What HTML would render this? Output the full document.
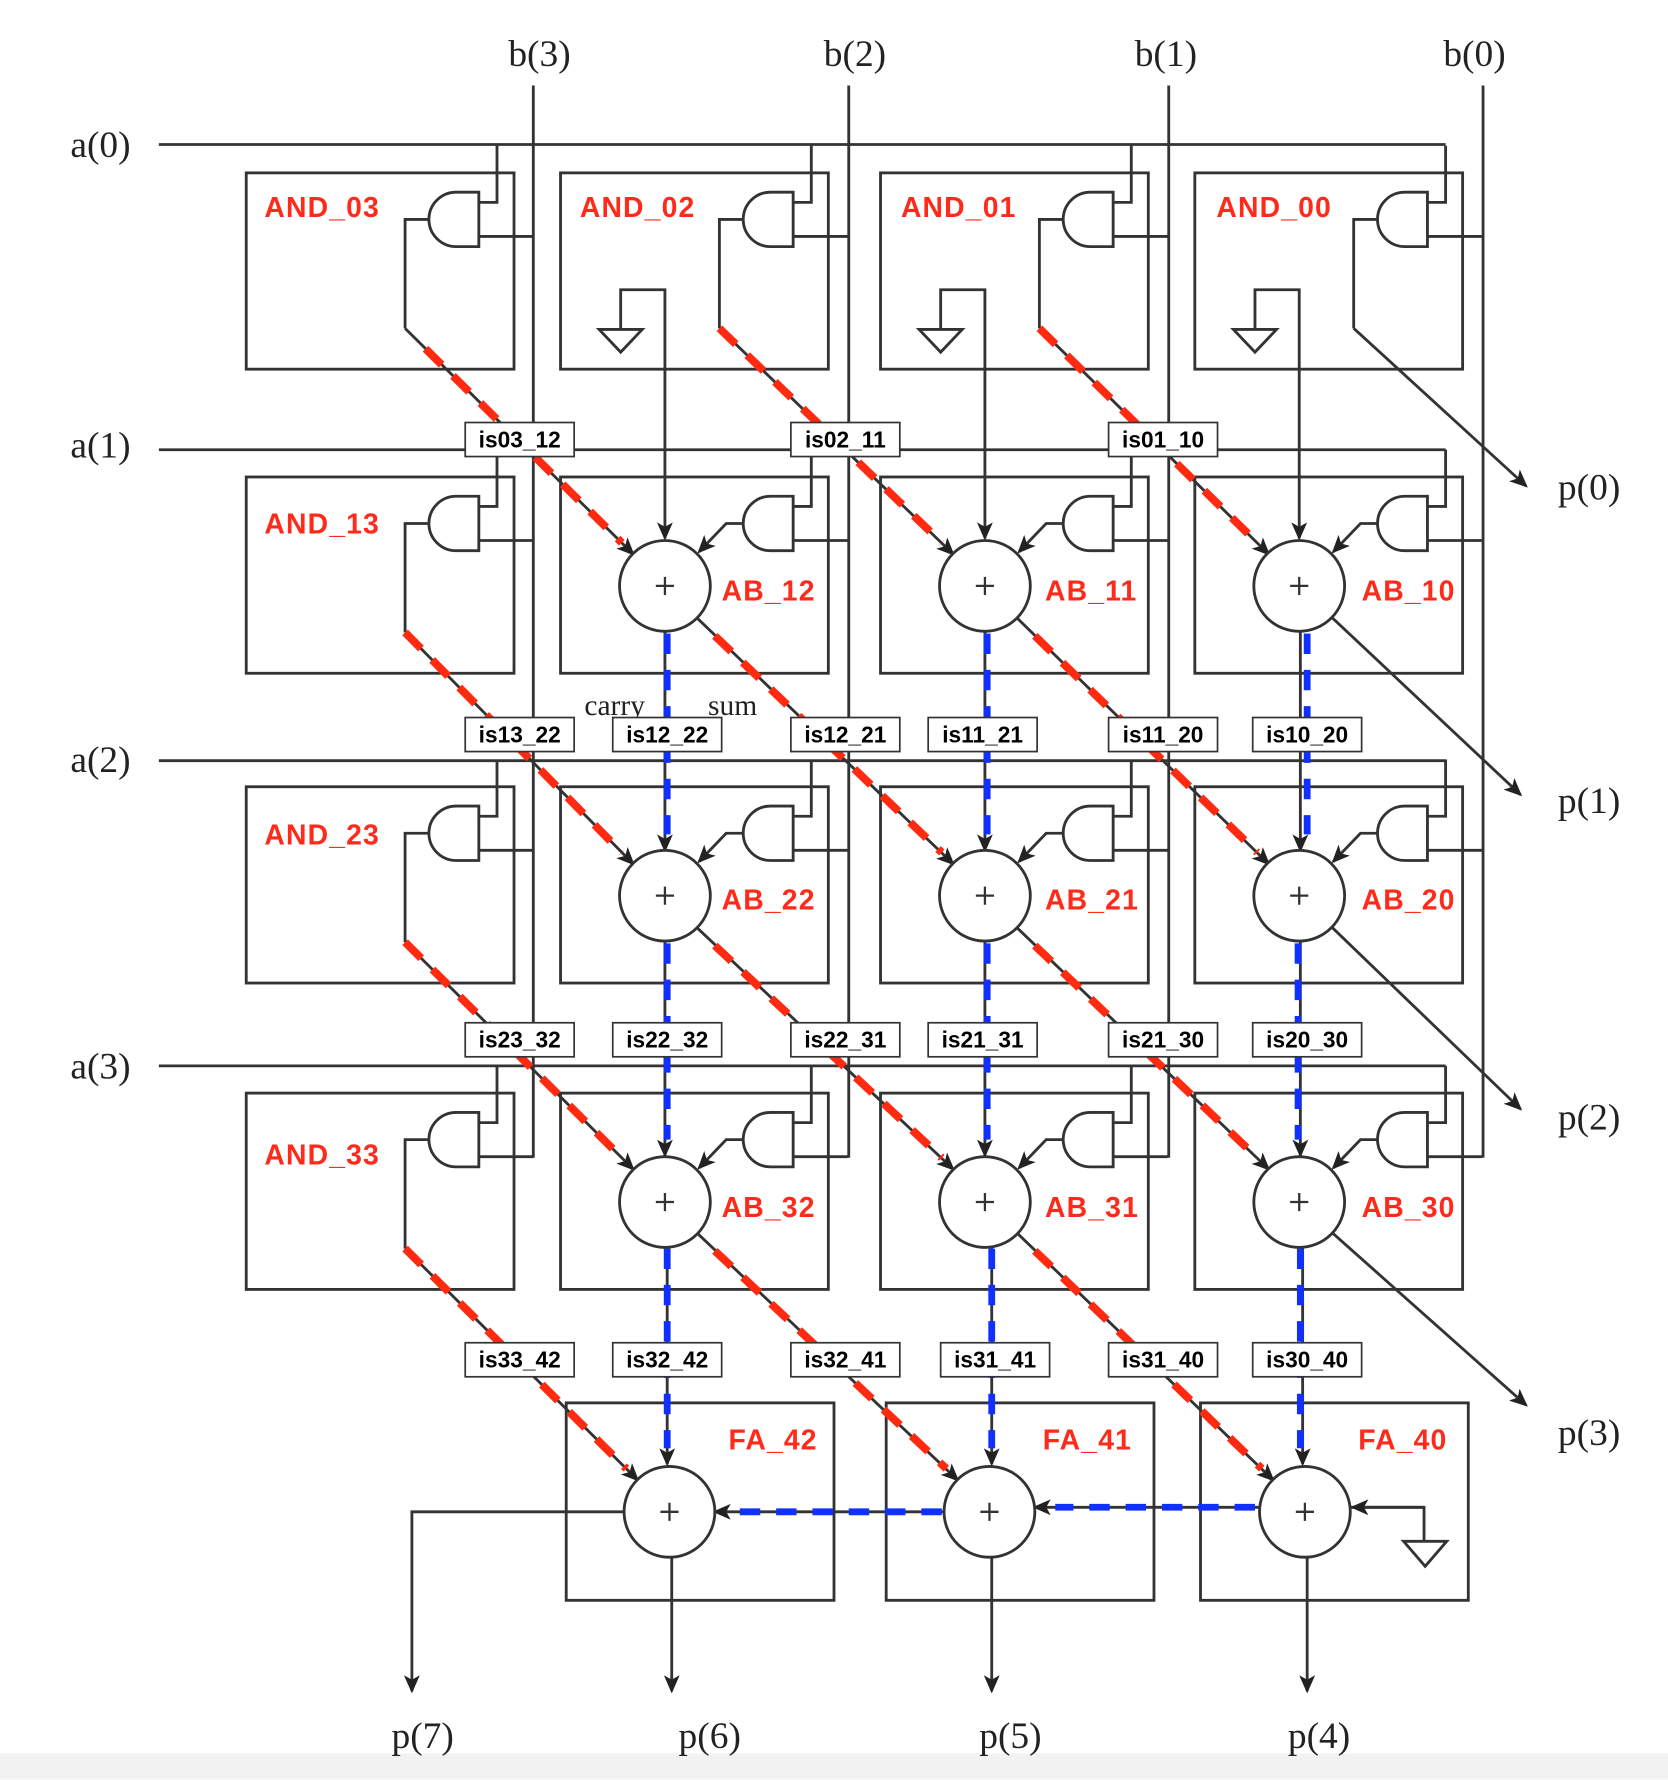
<!DOCTYPE html>
<html><head><meta charset="utf-8"><style>
html,body{margin:0;padding:0;background:#fff}
svg{display:block}
.ser{font-family:"Liberation Serif",serif;font-size:33px;fill:#222}
.red{font-family:"Liberation Sans",sans-serif;font-weight:bold;font-size:25px;letter-spacing:1px;fill:#ff2a1a}
.lb{font-family:"Liberation Sans",sans-serif;font-weight:bold;font-size:20px;fill:#000}
</style></head><body>
<svg width="1668" height="1780" viewBox="0 0 1470 1568" xmlns="http://www.w3.org/2000/svg">
<defs>
<marker id="ar" markerWidth="16" markerHeight="14" refX="14" refY="7" orient="auto" markerUnits="userSpaceOnUse"><path d="M0,0 L16,7 L0,14 L4,7 Z" fill="#222"/></marker>
<g id="cell" fill="none" stroke="#333" stroke-width="2.5">
<rect x="0" y="0" width="236" height="173"/>
<path d="M205,17 H185 A24,24 0 0 0 185,65 H205 Z" fill="#fff"/>
<path d="M221,-24 V26 H205 M205,56 H253"/>
</g>
<g id="gout" fill="none" stroke="#333" stroke-width="2.5"><path d="M161,41 H140 V137"/></g>
<g id="add" fill="none" stroke="#333" stroke-width="2.5">
<path d="M161,41 H146 L122,66" marker-end="url(#ar)"/>
<circle cx="92" cy="96" r="40" fill="#fff"/>
<path d="M84,96 H100 M92,88 V104" stroke-width="2"/>
</g>
<g id="gnd" fill="none" stroke="#333" stroke-width="2.5">
<path d="M53,138 V103 H92 V322" marker-end="url(#ar)"/>
<path d="M34,138 H72 L53,158 Z"/>
</g>
</defs>
<rect x="0" y="1545" width="1470" height="23" fill="#f2f2f2"/>

<g stroke="#333" stroke-width="2.5" fill="none">
<path d="M470,75 V1020 M748,75 V1020 M1030,75 V1020 M1307,75 V1020"/>
<path d="M140,127 H1274 M140,396 H1274 M140,670 H1274 M140,939 H1274"/>
</g>
<text class="ser" x="448" y="58">b(3)</text>
<text class="ser" x="726" y="58">b(2)</text>
<text class="ser" x="1000" y="58">b(1)</text>
<text class="ser" x="1272" y="58">b(0)</text>
<text class="ser" x="62" y="138">a(0)</text>
<text class="ser" x="62" y="403">a(1)</text>
<text class="ser" x="62" y="680">a(2)</text>
<text class="ser" x="62" y="950">a(3)</text>

<g>
<use href="#cell" x="217" y="152"/><use href="#cell" x="494" y="152"/><use href="#cell" x="776" y="152"/><use href="#cell" x="1053" y="152"/>
<use href="#cell" x="217" y="420"/><use href="#cell" x="494" y="420"/><use href="#cell" x="776" y="420"/><use href="#cell" x="1053" y="420"/>
<use href="#cell" x="217" y="693"/><use href="#cell" x="494" y="693"/><use href="#cell" x="776" y="693"/><use href="#cell" x="1053" y="693"/>
<use href="#cell" x="217" y="963"/><use href="#cell" x="494" y="963"/><use href="#cell" x="776" y="963"/><use href="#cell" x="1053" y="963"/>
<use href="#gout" x="217" y="152"/><use href="#gout" x="494" y="152"/><use href="#gout" x="776" y="152"/><use href="#gout" x="1053" y="152"/>
<use href="#gout" x="217" y="420"/><use href="#gout" x="217" y="693"/><use href="#gout" x="217" y="963"/>
<use href="#gnd" x="494" y="152"/><use href="#gnd" x="776" y="152"/><use href="#gnd" x="1053" y="152"/>
</g>

<g fill="none" stroke="#333" stroke-width="2.5">
<rect x="499" y="1236" width="236" height="174"/>
<rect x="781" y="1236" width="236" height="174"/>
<rect x="1058" y="1236" width="236" height="174"/>
<path d="M1190,1328 H1255 V1358" /><path d="M1255,1328 H1192" marker-end="url(#ar)"/>
<path d="M1237,1358 H1275 L1256,1380 Z"/>
<path d="M550,1332 H363 V1490" marker-end="url(#ar)"/>
<path d="M592,1372 V1490" marker-end="url(#ar)"/>
<path d="M874,1372 V1490" marker-end="url(#ar)"/>
<path d="M1152,1372 V1490" marker-end="url(#ar)"/>
</g>

<g fill="none" stroke="#333" stroke-width="2.5" marker-end="url(#ar)">
<path d="M357,289 L558,488"/><path d="M634,289 L840,488"/><path d="M916,289 L1118,488"/>
<path d="M1193,289 L1345,428"/>
<path d="M357,557 L558,761"/><path d="M614,544 L840,761"/><path d="M896,544 L1118,761"/><path d="M1174,544 L1340,700"/>
<path d="M357,830 L558,1030"/><path d="M614,817 L840,1030"/><path d="M896,817 L1118,1030"/><path d="M1174,817 L1340,977"/>
<path d="M357,1100 L562,1304"/><path d="M614,1086 L844,1304"/><path d="M896,1086 L1122,1304"/><path d="M1174,1086 L1345,1238"/>
<path d="M586,556 V749"/><path d="M868,556 V749"/><path d="M1146,556 V749"/>
<path d="M586,829 V1018"/><path d="M868,829 V1018"/><path d="M1146,829 V1018"/>
<path d="M588,1098 V1290"/><path d="M874,1098 V1290"/><path d="M1148,1098 V1290"/>
<path d="M1110,1328 H912"/><path d="M832,1332 H630"/>
</g>
<g fill="none" stroke="#ff2a10" stroke-width="7" stroke-dasharray="20 14">
<path d="M375,307 L548,478"/><path d="M634,289 L830,478"/><path d="M916,289 L1108,478"/>
<path d="M357,557 L548,751"/><path d="M630,560 L830,751"/><path d="M912,560 L1108,751"/>
<path d="M357,830 L548,1020"/><path d="M630,833 L830,1020"/><path d="M912,833 L1108,1020"/>
<path d="M357,1100 L552,1294"/><path d="M630,1102 L834,1294"/><path d="M912,1102 L1112,1294"/>
</g>
<g fill="none" stroke="#1030ff" stroke-width="6" stroke-dasharray="18 14">
<path d="M588,558 V735"/><path d="M870,558 V735"/><path d="M1152,558 V735"/>
<path d="M588,831 V1004"/><path d="M870,831 V1004"/><path d="M1144,831 V1004"/>
<path d="M588,1100 V1276"/><path d="M874,1100 V1276"/><path d="M1146,1100 V1276"/>
<path d="M1106,1328 H930"/><path d="M830,1332 H650"/>
</g>

<use href="#add" x="494" y="420"/><use href="#add" x="776" y="420"/><use href="#add" x="1053" y="420"/>
<use href="#add" x="494" y="693"/><use href="#add" x="776" y="693"/><use href="#add" x="1053" y="693"/>
<use href="#add" x="494" y="963"/><use href="#add" x="776" y="963"/><use href="#add" x="1053" y="963"/>
<g fill="#fff" stroke="#333" stroke-width="2.5">
<circle cx="590" cy="1332" r="40"/><circle cx="872" cy="1332" r="40"/><circle cx="1150" cy="1332" r="40"/>
</g>
<g stroke="#333" stroke-width="2"><path d="M582,1332 H598 M590,1324 V1340 M864,1332 H880 M872,1324 V1340 M1142,1332 H1158 M1150,1324 V1340"/></g>

<text class="red" x="233" y="191">AND_03</text><text class="red" x="511" y="191">AND_02</text>
<text class="red" x="794" y="191">AND_01</text><text class="red" x="1072" y="191">AND_00</text>
<text class="red" x="233" y="470">AND_13</text><text class="red" x="233" y="744">AND_23</text><text class="red" x="233" y="1026">AND_33</text>
<text class="red" x="636" y="529">AB_12</text><text class="red" x="921" y="529">AB_11</text><text class="red" x="1200" y="529">AB_10</text>
<text class="red" x="636" y="801">AB_22</text><text class="red" x="921" y="801">AB_21</text><text class="red" x="1200" y="801">AB_20</text>
<text class="red" x="636" y="1072">AB_32</text><text class="red" x="921" y="1072">AB_31</text><text class="red" x="1200" y="1072">AB_30</text>
<text class="red" x="642" y="1277">FA_42</text><text class="red" x="919" y="1277">FA_41</text><text class="red" x="1197" y="1277">FA_40</text>

<text class="ser" x="515" y="630" style="font-size:26px">carry</text>
<text class="ser" x="624" y="630" style="font-size:26px">sum</text>

<g fill="#fff" stroke="#333" stroke-width="1.5">
<rect x="410" y="372" width="96" height="30"/><rect x="697" y="372" width="96" height="30"/><rect x="977" y="372" width="96" height="30"/>
<rect x="410" y="632" width="96" height="30"/><rect x="540" y="632" width="96" height="30"/><rect x="697" y="632" width="96" height="30"/><rect x="818" y="632" width="96" height="30"/><rect x="977" y="632" width="96" height="30"/><rect x="1104" y="632" width="96" height="30"/>
<rect x="410" y="901" width="96" height="30"/><rect x="540" y="901" width="96" height="30"/><rect x="697" y="901" width="96" height="30"/><rect x="818" y="901" width="96" height="30"/><rect x="977" y="901" width="96" height="30"/><rect x="1104" y="901" width="96" height="30"/>
<rect x="410" y="1183" width="96" height="30"/><rect x="540" y="1183" width="96" height="30"/><rect x="697" y="1183" width="96" height="30"/><rect x="829" y="1183" width="96" height="30"/><rect x="977" y="1183" width="96" height="30"/><rect x="1104" y="1183" width="96" height="30"/>
</g>
<g class="lb" text-anchor="middle">
<text x="458" y="394">is03_12</text><text x="745" y="394">is02_11</text><text x="1025" y="394">is01_10</text>
<text x="458" y="654">is13_22</text><text x="588" y="654">is12_22</text><text x="745" y="654">is12_21</text><text x="866" y="654">is11_21</text><text x="1025" y="654">is11_20</text><text x="1152" y="654">is10_20</text>
<text x="458" y="923">is23_32</text><text x="588" y="923">is22_32</text><text x="745" y="923">is22_31</text><text x="866" y="923">is21_31</text><text x="1025" y="923">is21_30</text><text x="1152" y="923">is20_30</text>
<text x="458" y="1205">is33_42</text><text x="588" y="1205">is32_42</text><text x="745" y="1205">is32_41</text><text x="877" y="1205">is31_41</text><text x="1025" y="1205">is31_40</text><text x="1152" y="1205">is30_40</text>
</g>

<text class="ser" x="1373" y="440">p(0)</text>
<text class="ser" x="1373" y="716">p(1)</text>
<text class="ser" x="1373" y="995">p(2)</text>
<text class="ser" x="1373" y="1273">p(3)</text>
<text class="ser" x="345" y="1540">p(7)</text>
<text class="ser" x="598" y="1540">p(6)</text>
<text class="ser" x="863" y="1540">p(5)</text>
<text class="ser" x="1135" y="1540">p(4)</text>
</svg>
</body></html>
